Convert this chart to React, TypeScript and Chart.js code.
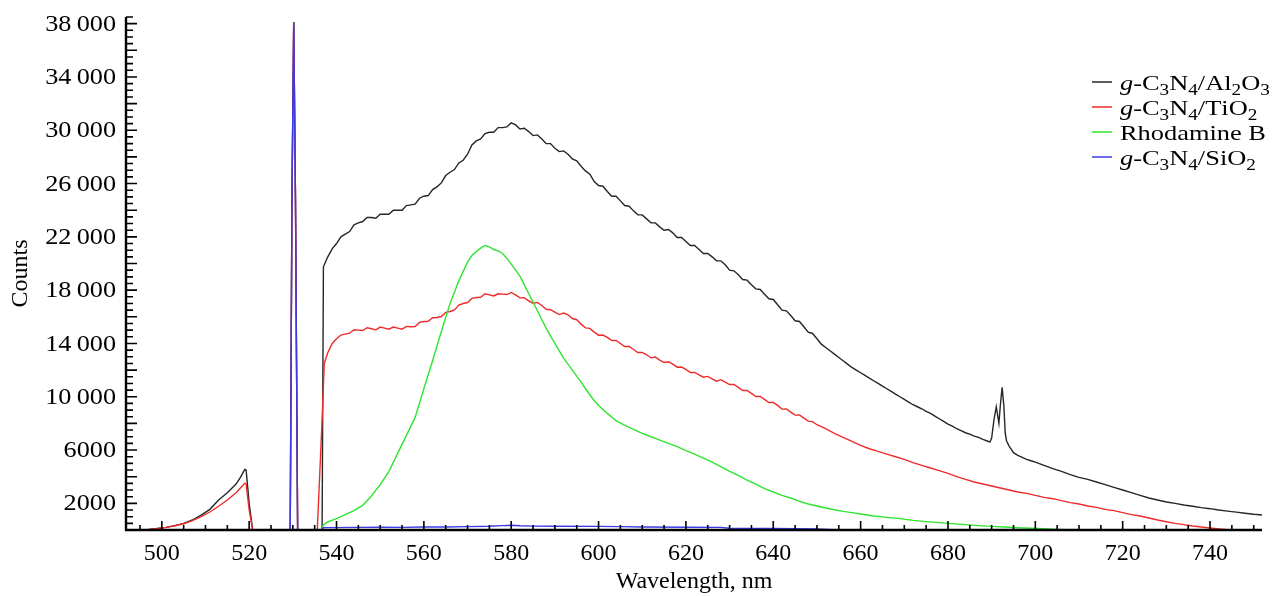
import React, { useEffect, useRef } from 'react';
import { Chart, registerables } from 'chart.js';

Chart.register(...registerables);

const FONT_FAMILY = '"Liberation Serif", "Times New Roman", serif';

// Legend names (subscripts as Unicode subscript digits) and colors
const seriesNames = ['g-C₃N₄/Al₂O₃', 'g-C₃N₄/TiO₂', 'Rhodamine B', 'g-C₃N₄/SiO₂'];
const seriesColors = ['#262626', '#ee2b2b', '#2fe42f', '#3a3ae6'];

// Axis settings
const xMin = 491.8;
const xMax = 751.9;
const yMin = 0;
const yMax = 38500;
const xTickStep = 5;
const xLabelEvery = 20;
const yTickStep = 500;
const yMajorEvery = 2000;
const yLabelFirst = 2000;
const yLabelEvery = 4000;

// g-C3N4/Al2O3
const al2o3Wavelengths = [
  492, 495, 497, 499, 501, 503, 505, 507, 509, 511, 513, 515, 517, 518, 519, 519.3, 520, 520.8,
  529.4, 529.8, 530.2, 530.6, 531.1, 536.7,
  537, 538, 539, 540,
  541, 542, 543, 544, 545, 546, 547, 548, 549, 550,
  551, 552, 553, 554, 555, 556, 557, 558, 559, 560,
  561, 562, 563, 564, 565, 566, 567, 568, 569, 570,
  571, 572, 573, 574, 575, 576, 577, 578, 579, 580,
  581, 582, 583, 584, 585, 586, 587, 588, 589, 590,
  591, 592, 593, 594, 595, 596, 597, 598, 599, 600,
  601, 602, 603, 604, 605, 606, 607, 608, 609, 610,
  611, 612, 613, 614, 615, 616, 617, 618, 619, 620,
  621, 622, 623, 624, 625, 626, 627, 628, 629, 630,
  631, 632, 633, 634, 635, 636, 637, 638, 639, 640,
  641, 642, 643, 644, 645, 646, 647, 648, 649, 650,
  651, 652, 653, 654, 655, 656, 657, 658, 659, 660,
  661, 662, 663, 664, 665, 666, 667, 668, 669, 670,
  671, 672, 673, 674, 675, 676, 677, 678, 679, 680,
  681, 682, 683, 684, 685, 686, 687, 688, 689,
  689.6, 690, 690.5, 691.06, 691.66, 692, 692.4, 692.8, 693.1, 693.4, 694, 695, 696, 697, 698, 699, 700,
  702, 704, 706, 708, 710, 712, 714, 716, 718, 720, 722, 724, 726, 728, 730,
  732, 734, 736, 738, 740, 742, 744, 746, 748, 750, 752,
];
const al2o3Counts = [
  0, 0, 50, 120, 200, 330, 500, 750, 1120, 1550, 2250, 2800, 3450, 3950, 4550, 4500, 2000, 0,
  0, 25000, 38100, 25000, 0, 0,
  19750, 20500, 21100, 21500,
  22000, 22200, 22400, 22900, 23050, 23150, 23450, 23450, 23400, 23700,
  23700, 23700, 24000, 24000, 24000, 24350, 24400, 24450, 24900, 25050,
  25100, 25550, 25750, 26050, 26600, 26850, 27050, 27550, 27750, 28200,
  28900, 29200, 29350, 29750, 29850, 29850, 30200, 30200, 30250, 30550,
  30400, 30100, 30150, 29900, 29600, 29650, 29350, 29000, 29000, 28650,
  28400, 28450, 28200, 27850, 27700, 27300, 26950, 26700, 26150, 25850,
  25800, 25400, 25050, 25050, 24700, 24350, 24300, 23950, 23650, 23650,
  23350, 23050, 23050, 22750, 22500, 22550, 22300, 21950, 21950, 21650,
  21350, 21350, 21050, 20750, 20750, 20500, 20200, 20200, 19900, 19500,
  19450, 19150, 18800, 18750, 18400, 18100, 18050, 17700, 17350, 17300,
  16900, 16500, 16450, 16100, 15700, 15650, 15250, 14850, 14750, 14350,
  13950, 13700, 13450, 13200, 12950, 12700, 12450, 12200, 12000, 11800,
  11600, 11400, 11200, 11000, 10800, 10600, 10400, 10200, 10000, 9800,
  9600, 9400, 9250, 9100, 8900, 8750, 8550, 8350, 8150, 7950,
  7800, 7600, 7450, 7300, 7200, 7050, 6950, 6800, 6680,
  6600, 6900, 8200, 9250, 8000, 9400, 10700, 9300, 7300, 6700, 6300, 5800, 5600, 5450, 5300, 5200, 5100,
  4850, 4600, 4400, 4150, 3950, 3800, 3600, 3400, 3200, 3000, 2800, 2600, 2400, 2250, 2100,
  2000, 1880, 1780, 1680, 1600, 1500, 1420, 1340, 1260, 1180, 1120,
];

// g-C3N4/TiO2
const tio2Wavelengths = [
  492, 495, 497, 499, 501, 503, 505, 507, 509, 511, 513, 515, 517, 518, 519, 519.3, 520, 520.8,
  529.4, 529.8, 530.2, 530.6, 531.1, 535.6, 536.6, 537.2, 538, 539, 540,
  541, 542, 543, 544, 545, 546, 547, 548, 549, 550,
  551, 552, 553, 554, 555, 556, 557, 558, 559, 560,
  561, 562, 563, 564, 565, 566, 567, 568, 569, 570,
  571, 572, 573, 574, 575, 576, 577, 578, 579, 580,
  581, 582, 583, 584, 585, 586, 587, 588, 589, 590,
  591, 592, 593, 594, 595, 596, 597, 598, 599, 600,
  601, 602, 603, 604, 605, 606, 607, 608, 609, 610,
  611, 612, 613, 614, 615, 616, 617, 618, 619, 620,
  621, 622, 623, 624, 625, 626, 627, 628, 629, 630,
  631, 632, 633, 634, 635, 636, 637, 638, 639, 640,
  641, 642, 643, 644, 645, 646, 647, 648, 649, 650,
  652, 654, 656, 658, 660, 662, 664, 666, 668, 670,
  672, 674, 676, 678, 680, 682, 684, 686, 688, 690,
  692, 694, 696, 698, 700, 702, 704, 706, 708, 710,
  712, 714, 716, 718, 720, 722, 724, 726, 728, 730,
  732, 734, 736, 738, 740, 742, 744, 745,
];
const tio2Counts = [
  0, 0, 40, 110, 200, 320, 470, 700, 1000, 1350, 1780, 2250, 2800, 3150, 3500, 3450, 1500, 0,
  0, 25000, 38100, 25000, 0, 0, 7500, 12500, 13300, 14000, 14350,
  14630, 14700, 14770, 15030, 15000, 14970, 15180, 15100, 15020, 15230,
  15150, 15070, 15230, 15150, 15070, 15280, 15250, 15270, 15580, 15650,
  15670, 15930, 15950, 16020, 16330, 16400, 16520, 16880, 17000, 17070,
  17380, 17450, 17470, 17730, 17650, 17570, 17730, 17700, 17670, 17830,
  17650, 17420, 17430, 17200, 17020, 17080, 16850, 16570, 16530, 16350,
  16170, 16280, 16150, 15870, 15780, 15450, 15170, 15130, 14850, 14620,
  14630, 14450, 14220, 14230, 14000, 13770, 13780, 13550, 13320, 13330,
  13150, 12920, 12980, 12750, 12570, 12630, 12450, 12220, 12230, 12050,
  11820, 11830, 11650, 11470, 11530, 11350, 11170, 11280, 11100, 10920,
  10930, 10700, 10470, 10480, 10250, 10020, 10030, 9800, 9570, 9580,
  9350, 9070, 9080, 8850, 8620, 8630, 8400, 8170, 8130, 7900,
  7600, 7250, 6950, 6650, 6350, 6100, 5900, 5700, 5500, 5300,
  5050, 4850, 4650, 4450, 4250, 4000, 3800, 3600, 3450, 3300,
  3150, 3000, 2850, 2750, 2600, 2450, 2350, 2200, 2050, 1950,
  1800, 1700, 1550, 1450, 1300, 1150, 1050, 900, 750, 620,
  500, 400, 300, 230, 150, 80, 20, 0,
];

// Rhodamine B
const rhodamineWavelengths = [
  536.6, 537, 538, 540, 542, 544, 546, 548, 550, 552, 554, 556, 558, 560, 562, 564, 566, 568, 570,
  571, 572, 573, 574, 575, 576, 577, 578, 579, 580,
  581, 582, 583, 584, 585, 586, 587, 588, 589, 590,
  591, 592, 593, 594, 595, 596, 597, 598, 599, 600,
  602, 604, 606, 608, 610, 612, 614, 616, 618, 620,
  622, 624, 626, 628, 630, 632, 634, 636, 638, 640,
  642, 644, 646, 648, 650, 652, 654, 656, 658, 660,
  663, 666, 669, 672, 675, 678, 681, 684, 687, 690,
  693, 696, 699, 702, 705, 708, 712, 720,
];
const rhodamineCounts = [
  0, 400, 600, 850, 1150, 1450, 1850, 2550, 3400, 4400, 5750, 7100, 8450, 10600, 12700, 14900, 17000, 18700, 20100,
  20600, 20900, 21150, 21350, 21250, 21050, 20950, 20750, 20400, 19950,
  19500, 19050, 18400, 17750, 17100, 16450, 15800, 15150, 14550, 14000,
  13450, 12900, 12450, 12000, 11550, 11100, 10600, 10150, 9700, 9350,
  8750, 8200, 7850, 7550, 7250, 7000, 6750, 6500, 6250, 5950,
  5700, 5400, 5100, 4750, 4400, 4100, 3750, 3450, 3100, 2850,
  2600, 2400, 2150, 1950, 1800, 1650, 1520, 1400, 1300, 1200,
  1050, 950, 850, 720, 630, 550, 480, 400, 330, 270,
  220, 170, 130, 90, 50, 20, 0, 0,
];

// g-C3N4/SiO2
const sio2Wavelengths = [
  492, 529.4, 529.8, 530.2, 530.6, 531.1, 536.6, 537, 545, 550, 555, 560, 565, 570, 575,
  578, 580, 582, 585, 590, 600, 605, 610, 620, 628, 630, 640, 650, 655,
];
const sio2Counts = [
  0, 0, 25000, 38100, 25000, 0, 0, 180, 200, 210, 200, 220, 230, 250, 280,
  330, 360, 320, 290, 280, 270, 250, 220, 210, 200, 130, 120, 80, 0,
];

const formatCount = (v: number): string => {
  const s = String(v);
  if (v >= 10000) return s.slice(0, s.length - 3) + '\u2009' + s.slice(-3);
  return s;
};

const isYLabel = (v: number) => v > yMin && (v - yLabelFirst) % yLabelEvery === 0;

const toPoints = (xs: number[], ys: number[]) => xs.map((x, i) => ({ x, y: ys[i] }));

const axesPlugin = {
  id: 'insideAxes',
  afterDatasetsDraw(chart: any) {
    const { ctx, chartArea: ca, scales } = chart;
    const x = scales.x;
    const y = scales.y;
    ctx.save();
    ctx.strokeStyle = '#000';
    ctx.lineWidth = 1.6;
    ctx.beginPath();
    for (const t of x.ticks) {
      const v = Math.round(t.value);
      const px = x.getPixelForValue(t.value);
      const len = v % xLabelEvery === 0 ? 9 : 5;
      ctx.moveTo(px, ca.bottom);
      ctx.lineTo(px, ca.bottom - len);
    }
    for (const t of y.ticks) {
      const v = Math.round(t.value);
      if (v <= yMin) continue;
      const py = y.getPixelForValue(t.value);
      const len = v % yMajorEvery === 0 ? 11 : 7;
      ctx.moveTo(ca.left, py);
      ctx.lineTo(ca.left + len, py);
    }
    ctx.stroke();
    ctx.lineWidth = 2.4;
    ctx.beginPath();
    ctx.moveTo(ca.left, ca.top);
    ctx.lineTo(ca.left, ca.bottom + 1.2);
    ctx.moveTo(ca.left - 1.2, ca.bottom);
    ctx.lineTo(ca.right, ca.bottom);
    ctx.stroke();

    // y tick labels from the scale's own ticks (slightly widened like the reference typesetting)
    ctx.fillStyle = '#000';
    ctx.font = `23px ${FONT_FAMILY}`;
    ctx.textAlign = 'right';
    ctx.textBaseline = 'middle';
    for (const t of y.ticks) {
      const v = Math.round(t.value);
      if (!isYLabel(v)) continue;
      const py = y.getPixelForValue(t.value) + 1;
      ctx.save();
      ctx.translate(ca.left - 10, py);
      ctx.scale(1.14, 1);
      ctx.fillText(formatCount(v), 0, 0);
      ctx.restore();
    }
    ctx.restore();
  },
};

const SUBS = '₀₁₂₃₄₅₆₇₈₉';

function drawRich(ctx: CanvasRenderingContext2D, text: string, x: number, baseY: number, size: number) {
  ctx.save();
  ctx.translate(x, baseY);
  ctx.scale(1.2, 1);
  ctx.fillStyle = '#000';
  ctx.textBaseline = 'alphabetic';
  ctx.textAlign = 'left';
  const chars = Array.from(text);
  let cx = 0;
  chars.forEach((ch, i) => {
    const subIdx = SUBS.indexOf(ch);
    let glyph = ch;
    let dy = 0;
    if (subIdx >= 0) {
      glyph = String(subIdx);
      ctx.font = `${Math.round(size * 0.72)}px ${FONT_FAMILY}`;
      dy = size * 0.25;
    } else if (i === 0 && ch === 'g' && chars[1] === '-') {
      ctx.font = `italic ${size}px ${FONT_FAMILY}`;
    } else {
      ctx.font = `${size}px ${FONT_FAMILY}`;
    }
    ctx.fillText(glyph, cx, dy);
    cx += ctx.measureText(glyph).width;
  });
  ctx.restore();
}

const legendPlugin = {
  id: 'richLegend',
  afterDraw(chart: any) {
    const ctx = chart.ctx as CanvasRenderingContext2D;
    const lineX0 = 1092;
    const lineX1 = 1112;
    const textX = 1120;
    const firstY = 82;
    const rowGap = 25;
    chart.data.datasets.forEach((ds: any, i: number) => {
      const yLine = firstY + i * rowGap;
      ctx.save();
      ctx.strokeStyle = ds.borderColor;
      ctx.lineWidth = 1.5;
      ctx.beginPath();
      ctx.moveTo(lineX0, yLine);
      ctx.lineTo(lineX1, yLine);
      ctx.stroke();
      ctx.restore();
      drawRich(ctx, ds.label, textX, yLine + 7.5, 22);
    });
  },
};

export default function App() {
  const canvasRef = useRef<HTMLCanvasElement | null>(null);

  useEffect(() => {
    if (!canvasRef.current) return;
    const series = [
      { xs: al2o3Wavelengths, ys: al2o3Counts, order: 4 },
      { xs: tio2Wavelengths, ys: tio2Counts, order: 3 },
      { xs: rhodamineWavelengths, ys: rhodamineCounts, order: 2 },
      { xs: sio2Wavelengths, ys: sio2Counts, order: 1 },
    ];
    const chart = new Chart(canvasRef.current, {
      type: 'line',
      data: {
        datasets: series.map((s, i) => ({
          label: seriesNames[i],
          data: toPoints(s.xs, s.ys),
          borderColor: seriesColors[i],
          backgroundColor: seriesColors[i],
          borderWidth: 1.4,
          pointRadius: 0,
          tension: 0,
          fill: false,
          order: s.order,
        })),
      },
      options: {
        animation: false,
        responsive: true,
        maintainAspectRatio: false,
        layout: { padding: { top: 17, right: 15, left: 0, bottom: 0 } },
        plugins: {
          legend: { display: false },
          tooltip: { enabled: false },
        },
        scales: {
          x: {
            type: 'linear',
            min: xMin,
            max: xMax,
            grid: { display: false, drawTicks: false },
            border: { display: false },
            ticks: {
              stepSize: xTickStep,
              includeBounds: false,
              autoSkip: false,
              maxRotation: 0,
              minRotation: 0,
              padding: 9,
              color: '#000',
              font: { family: FONT_FAMILY, size: 24 },
              callback: (v: any) => (Math.round(Number(v)) % xLabelEvery === 0 ? String(Math.round(Number(v))) : ''),
            },
            title: {
              display: true,
              text: 'Wavelength, nm',
              color: '#000',
              font: { family: FONT_FAMILY, size: 24 },
              padding: { top: 0, bottom: 0 },
            },
            afterFit: (s: any) => {
              s.height = 66;
            },
          },
          y: {
            type: 'linear',
            min: yMin,
            max: yMax,
            grid: { display: false, drawTicks: false },
            border: { display: false },
            ticks: {
              display: false,
              stepSize: yTickStep,
              includeBounds: false,
              autoSkip: false,
            },
            title: {
              display: true,
              text: 'Counts',
              color: '#000',
              font: { family: FONT_FAMILY, size: 24 },
              padding: { top: 6, bottom: 0 },
            },
            afterFit: (s: any) => {
              s.width = 126;
            },
          },
        },
      } as any,
      plugins: [axesPlugin, legendPlugin],
    });
    return () => chart.destroy();
  }, []);

  return (
    <div style={{ position: 'fixed', left: 0, top: 0, width: 1277, height: 596, background: '#fff' }}>
      <canvas ref={canvasRef} />
    </div>
  );
}
